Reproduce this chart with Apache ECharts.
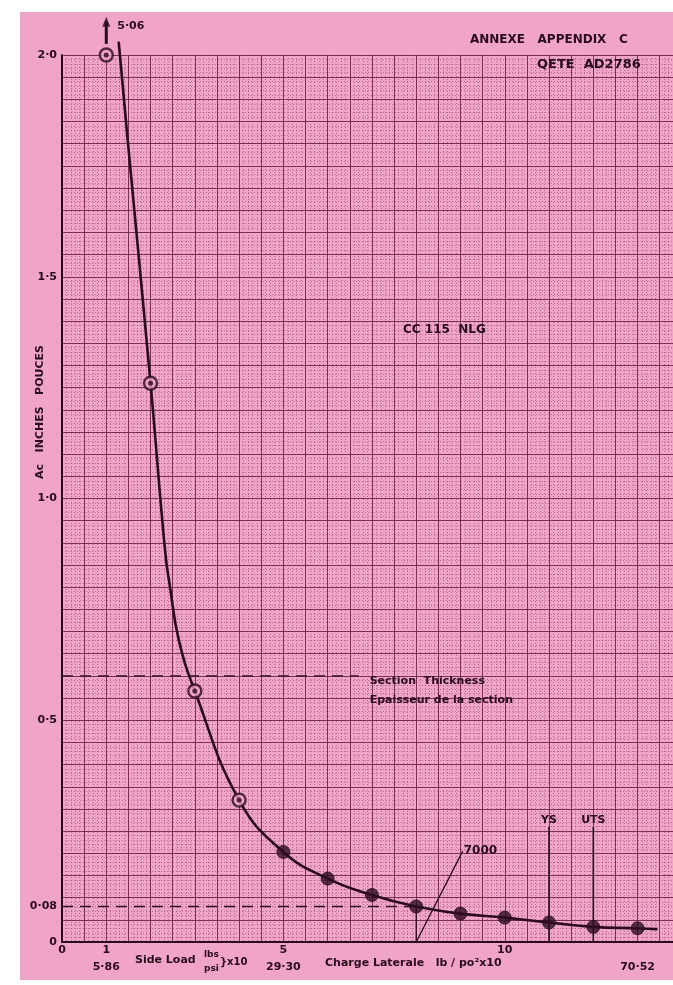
<!DOCTYPE html>
<html>
<head>
<meta charset="utf-8">
<script src="https://cdn.jsdelivr.net/npm/echarts@6/dist/echarts.min.js"></script>
<style>
  html, body { margin: 0; padding: 0; background: #ffffff; }
  #paper { position: absolute; left: 20px; top: 12px; width: 653px; height: 968px; background: #EFA4C8; }
  #chart { position: absolute; left: 0; top: 0; width: 673px; height: 985px; }
</style>
</head>
<body>
<div id="paper"></div>
<div id="chart"></div>
<script>
// ---- data ----
const pointX = [1, 2, 3, 4, 5, 6, 7, 8, 9, 10, 11, 12, 13];
const pointY = [2.0, 1.26, 0.566, 0.32, 0.203, 0.143, 0.106, 0.08, 0.064, 0.055, 0.044, 0.034, 0.031];
const openCount = 4; // first points drawn as open rings
const curveX = [1.28, 1.52, 2.0, 2.33, 2.44, 2.64, 3, 4, 5, 6, 7, 8, 9, 10, 11, 12, 13, 13.45];
const curveY = [2.03, 1.77, 1.26, 0.88, 0.80, 0.68, 0.566, 0.32, 0.203, 0.143, 0.106, 0.08, 0.064, 0.055, 0.044, 0.034, 0.031, 0.029];
const offScaleX = 1;
const offScaleArrowFrom = 2.025;
const offScaleArrowTo = 2.075;
const offScaleLabel = '5·06';
const sectionThickness = 0.6;
const sectionLineEnd = 6.7;
const minThickness = 0.08;
const minLineEnd = 8;
const loadMarkX = 8;
const loadLabelX = 9.05;
const loadLabelY = 0.205;
const loadLabel = '7000';
const ysX = 11;
const utsX = 12;
const limitTop = 0.26;
const yTickValues = [0, 0.08, 0.5, 1.0, 1.5, 2.0];
const yTickLabels = ['0', '0·08', '0·5', '1·0', '1·5', '2·0'];
const xTickValues = [0, 1, 5, 10, 13];
const xTickLabels = ['0', '1\n5·86', '5\n29·30', '10', '\n70·52'];

const ink = '#2a0a1c';
const gridInk = '#6a2447';
const font = '"DejaVu Sans", "Liberation Sans", sans-serif';

const chart = echarts.init(document.getElementById('chart'), null, { renderer: 'canvas' });

const pts = pointX.map((x, i) => [x, pointY[i]]);
const curve = curveX.map((x, i) => [x, curveY[i]]);

const option = {
  animation: false,
  backgroundColor: 'transparent',
  grid: { left: 62, top: 55, right: 0, bottom: 43, containLabel: false },
  xAxis: {
    type: 'value', min: 0, max: 13.8, interval: 0.5,
    axisLine: { show: true, onZero: false, lineStyle: { color: ink, width: 2 } },
    axisTick: { show: false },
    axisLabel: {
      customValues: xTickValues,
      formatter: v => { const i = xTickValues.findIndex(t => Math.abs(t - v) < 1e-6); return i >= 0 ? xTickLabels[i] : ''; },
      color: ink, fontFamily: font, fontWeight: 'bold', fontSize: 11, lineHeight: 17, margin: 0
    },
    splitLine: { show: true, lineStyle: { color: gridInk, width: 1, opacity: 0.9 } },
    minorTick: { show: false, splitNumber: 5 },
    minorSplitLine: { show: true, lineStyle: { color: gridInk, width: 1, type: [1, 2], opacity: 0.45 } }
  },
  yAxis: {
    type: 'value', min: 0, max: 2.0, interval: 0.05,
    axisLine: { show: true, onZero: false, lineStyle: { color: ink, width: 2 } },
    axisTick: { show: false },
    axisLabel: {
      customValues: yTickValues,
      formatter: v => { const i = yTickValues.findIndex(t => Math.abs(t - v) < 1e-6); return i >= 0 ? yTickLabels[i] : ''; },
      color: ink, fontFamily: font, fontWeight: 'bold', fontSize: 11, margin: 5
    },
    splitLine: { show: true, lineStyle: { color: gridInk, width: 1, opacity: 0.9 } },
    minorTick: { show: false, splitNumber: 5 },
    minorSplitLine: { show: true, lineStyle: { color: gridInk, width: 1, type: [1, 2], opacity: 0.45 } }
  },
  series: [
    {
      name: 'curve', type: 'line', data: curve, smooth: 0.45,
      showSymbol: false, clip: false, z: 5,
      lineStyle: { color: ink, width: 2.6 }
    },
    {
      name: 'section', type: 'line', showSymbol: false, z: 4,
      data: [[0, sectionThickness], [sectionLineEnd, sectionThickness]],
      lineStyle: { color: ink, width: 1.3, type: [11, 7] }
    },
    {
      name: 'minimum', type: 'line', showSymbol: false, z: 4,
      data: [[0, minThickness], [minLineEnd, minThickness]],
      lineStyle: { color: ink, width: 1.3, type: [11, 7] }
    },
    {
      name: 'loadDrop', type: 'line', showSymbol: false, z: 4,
      data: [[loadMarkX, pointY[pointX.indexOf(loadMarkX)]], [loadMarkX, 0]],
      lineStyle: { color: ink, width: 1.3 }
    },
    {
      name: 'loadPointer', type: 'line', showSymbol: false, z: 4,
      data: [[loadMarkX, 0], [loadLabelX, loadLabelY]],
      lineStyle: { color: ink, width: 1.3 }
    },
    {
      name: 'YS', type: 'line', showSymbol: false, z: 4,
      data: [[ysX, 0], [ysX, limitTop]],
      lineStyle: { color: ink, width: 1.6 }
    },
    {
      name: 'UTS', type: 'line', showSymbol: false, z: 4,
      data: [[utsX, 0], [utsX, limitTop]],
      lineStyle: { color: ink, width: 1.6 }
    },
    {
      name: 'offScaleShaft', type: 'line', showSymbol: false, clip: false, z: 6,
      data: [[offScaleX, offScaleArrowFrom], [offScaleX, offScaleArrowTo]],
      lineStyle: { color: ink, width: 3 }
    },
    {
      name: 'offScaleHead', type: 'scatter', clip: false, z: 6,
      data: [[offScaleX, offScaleArrowTo]], symbol: 'triangle', symbolSize: [8, 10],
      itemStyle: { color: ink }
    },
    {
      name: 'openPoints', type: 'scatter', clip: false, z: 6,
      data: pts.slice(0, openCount), symbol: 'circle', symbolSize: 13,
      itemStyle: { color: '#EFA4C8', borderColor: ink, borderWidth: 2.4 }
    },
    {
      name: 'openDots', type: 'scatter', clip: false, z: 7,
      data: pts.slice(0, openCount), symbol: 'circle', symbolSize: 5,
      itemStyle: { color: ink }
    },
    {
      name: 'filledPoints', type: 'scatter', z: 6,
      data: pts.slice(openCount), symbol: 'circle', symbolSize: 13,
      itemStyle: { color: '#2e0c1f', borderColor: ink, borderWidth: 1 }
    }
  ]
};
chart.setOption(option);

// annotations placed through the chart's own scales
const px = (x, y) => chart.convertToPixel({ gridIndex: 0 }, [x, y]);
const txt = (x, y, text, extra) => ({
  type: 'text', x, y, silent: true, z: 100,
  style: Object.assign({ text, fill: ink, font: 'bold 11px ' + font }, extra || {})
});

const pOff = px(offScaleX, offScaleArrowTo);
const pLoad = px(loadLabelX, loadLabelY);
const pYS = px(ysX, limitTop);
const pUTS = px(utsX, limitTop);
const pSec = px(sectionLineEnd, sectionThickness);

chart.setOption({
  graphic: [
    txt(pOff[0] + 11, pOff[1] + 4, offScaleLabel, { textVerticalAlign: 'middle' }),
    txt(pLoad[0] + 1, pLoad[1], loadLabel, { textVerticalAlign: 'middle', font: 'bold 12px ' + font }),
    txt(pYS[0], pYS[1] - 7, 'YS', { textAlign: 'center', textVerticalAlign: 'middle' }),
    txt(pUTS[0], pUTS[1] - 7, 'UTS', { textAlign: 'center', textVerticalAlign: 'middle' }),
    txt(pSec[0] + 11, pSec[1] + 5, 'Section  Thickness', { textVerticalAlign: 'middle', font: 'bold 11px ' + font }),
    txt(pSec[0] + 11, pSec[1] + 24, 'Epaisseur de la section', { textVerticalAlign: 'middle', font: 'bold 11px ' + font }),
    txt(403, 330, 'CC 115  NLG', { textVerticalAlign: 'middle', font: 'bold 12px ' + font }),
    txt(470, 40, 'ANNEXE   APPENDIX   C', { textVerticalAlign: 'middle', font: 'bold 12px ' + font }),
    txt(537, 65, 'QETE  AD2786', { textVerticalAlign: 'middle', font: 'bold 13px ' + font }),
    { type: 'text', x: 40, y: 412, rotation: Math.PI / 2, silent: true, z: 100,
      style: { text: 'Ac   INCHES   POUCES', fill: ink, font: 'bold 11px ' + font, textAlign: 'center', textVerticalAlign: 'middle' } },
    txt(135, 960, 'Side Load', { textVerticalAlign: 'middle' }),
    txt(204, 955, 'lbs', { textVerticalAlign: 'middle', font: 'bold 9px ' + font }),
    txt(204, 969, 'psi', { textVerticalAlign: 'middle', font: 'bold 9px ' + font }),
    txt(220, 962, '}x10', { textVerticalAlign: 'middle', font: 'bold 10px ' + font }),
    txt(325, 963, 'Charge Laterale   lb / po²x10', { textVerticalAlign: 'middle' })
  ]
});
</script>
</body>
</html>
